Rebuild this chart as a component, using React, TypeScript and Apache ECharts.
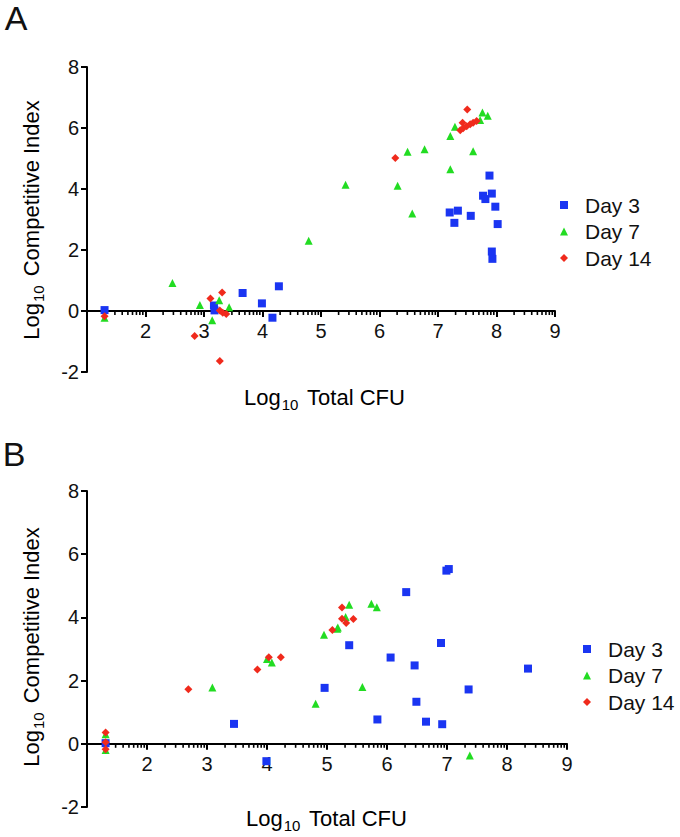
import React, { useEffect, useRef } from 'react';
import * as echarts from 'echarts';

const FONT = "'Liberation Sans', Arial, Helvetica, sans-serif";

const seriesNames = ['Day 3', 'Day 7', 'Day 14'];
const seriesColors = ['#1a35f2', '#22dc22', '#f02a1c'];
const seriesSymbols = ['rect', 'triangle', 'diamond'];

const xMin = 1;
const xMax = 9;
const yMin = -2;
const yMax = 8;
const yStep = 2;
const minorFractions = [0.301, 0.477, 0.602, 0.699, 0.778, 0.845, 0.903, 0.954];

// Panel A
const aDay3: number[][] = [
  [1.30, 0.03], [3.17, 0.18], [3.18, 0.02], [3.66, 0.59], [3.99, 0.25], [4.28, 0.81], [4.17, -0.22],
  [7.88, 4.44], [7.77, 3.78], [7.81, 3.67], [7.92, 3.85], [7.98, 3.42], [7.20, 3.23], [7.34, 3.29],
  [7.28, 2.89], [7.56, 3.12], [8.02, 2.85], [7.92, 1.95], [7.93, 1.71],
];
const aDay7: number[][] = [
  [1.30, -0.22], [2.46, 0.92], [2.93, 0.20], [3.14, -0.30], [3.26, 0.35], [3.43, 0.12], [4.79, 2.30],
  [5.42, 4.14], [6.31, 4.11], [6.56, 3.20], [6.48, 5.22], [6.77, 5.30], [7.60, 5.24], [7.21, 4.65],
  [7.21, 5.74], [7.29, 6.04], [7.72, 6.26], [7.76, 6.51], [7.85, 6.40],
];
const aDay14: number[][] = [
  [1.30, -0.17], [3.11, 0.41], [3.31, 0.61], [3.27, 0.02], [3.32, -0.06], [3.38, -0.10], [2.84, -0.82],
  [3.27, -1.64], [6.27, 5.02], [7.50, 6.61], [7.42, 6.17], [7.38, 5.93], [7.43, 5.99], [7.49, 6.06],
  [7.55, 6.12], [7.60, 6.17], [7.66, 6.23],
];

// Panel B
const bDay3: number[][] = [
  [1.31, 0.02], [3.45, 0.63], [3.99, -0.55], [4.96, 1.77], [5.37, 3.12], [6.06, 2.73], [5.84, 0.77],
  [6.32, 4.80], [6.46, 2.48], [6.49, 1.33], [6.65, 0.70], [6.90, 3.19], [6.92, 0.62], [6.99, 5.48],
  [7.03, 5.53], [7.36, 1.72], [8.35, 2.38],
];
const bDay7: number[][] = [
  [1.31, 0.30], [1.31, -0.20], [3.09, 1.78], [4.00, 2.68], [4.08, 2.57], [4.81, 1.27], [4.95, 3.45],
  [5.18, 3.68], [5.17, 3.64], [5.31, 4.01], [5.37, 4.40], [5.74, 4.43], [5.83, 4.32], [5.59, 1.80],
  [7.38, -0.37],
];
const bDay14: number[][] = [
  [1.31, 0.36], [1.31, 0.05], [1.31, -0.17], [2.69, 1.73], [3.84, 2.35], [4.03, 2.74], [4.23, 2.74],
  [5.09, 3.60], [5.25, 4.31], [5.25, 3.96], [5.32, 3.82], [5.44, 3.95],
];

const panels = [
  { data: [aDay3, aDay7, aDay14] },
  { data: [bDay3, bDay7, bDay14] },
];

const subRich = {
  n: { fontSize: 22, fontFamily: FONT, color: '#111' },
  s: { fontSize: 15, fontFamily: FONT, color: '#111', padding: [14, 3, 0, 1] },
};

export default function App() {
  const ref = useRef<HTMLDivElement>(null);

  useEffect(() => {
    if (!ref.current) return;
    const chart = echarts.init(ref.current, undefined, { renderer: 'svg' });

    const minorTicks: number[][] = [];
    for (let n = xMin; n < xMax; n++) {
      minorFractions.forEach((f) => minorTicks.push([n + f, 0]));
    }

    const grids = [
      { left: 87, top: 67, width: 468, height: 305 },
      { left: 87, top: 491, width: 480, height: 316 },
    ];

    const axisLineStyle = { color: '#000', width: 2 };

    // x axis crosses the y axis at 0: shift it up from the grid bottom by the share of 0 in the y range
    const zeroShare = (0 - yMin) / (yMax - yMin);

    const xAxes = grids.map((g, i) => ({
      gridIndex: i,
      type: 'value',
      min: xMin,
      max: xMax,
      interval: 1,
      offset: -g.height * zeroShare,
      axisLine: { show: true, onZero: false, lineStyle: axisLineStyle },
      axisTick: { show: true, length: 6, inside: false, lineStyle: { color: '#000', width: 2 } },
      axisLabel: {
        fontSize: 20,
        fontFamily: FONT,
        color: '#111',
        margin: 10,
        formatter: (v: number) => (v === xMin ? '' : String(v)),
      },
      splitLine: { show: false },
    }));

    const yAxes = grids.map((_, i) => ({
      gridIndex: i,
      type: 'value',
      min: yMin,
      max: yMax,
      interval: yStep,
      axisLine: { show: true, onZero: false, lineStyle: axisLineStyle },
      axisTick: { show: true, length: 6, lineStyle: { color: '#000', width: 2 } },
      axisLabel: { fontSize: 20, fontFamily: FONT, color: '#111', margin: 8 },
      splitLine: { show: false },
    }));

    const series: any[] = [];
    panels.forEach((p, gi) => {
      p.data.forEach((d, si) => {
        series.push({
          type: 'scatter',
          name: seriesNames[si],
          xAxisIndex: gi,
          yAxisIndex: gi,
          data: d,
          symbol: seriesSymbols[si],
          symbolSize: 8,
          itemStyle: { color: seriesColors[si], opacity: 1 },
          z: 3 + si,
        });
      });
      series.push({
        type: 'custom',
        name: 'minorTicks' + gi,
        xAxisIndex: gi,
        yAxisIndex: gi,
        silent: true,
        data: minorTicks,
        renderItem: (params: any, api: any) => {
          const pt = api.coord([api.value(0), 0]);
          return {
            type: 'line',
            shape: { x1: pt[0], y1: pt[1], x2: pt[0], y2: pt[1] + 4 },
            style: { stroke: '#000', lineWidth: 1.6 },
          };
        },
        z: 2,
      });
    });

    const legendBase = {
      data: seriesNames,
      orient: 'vertical',
      itemWidth: 8,
      itemHeight: 8,
      itemGap: 4.5,
      selectedMode: false,
      textStyle: { fontSize: 21, fontFamily: FONT, color: '#111', lineHeight: 22, padding: [0, 0, 0, 12] },
    };

    const graphic: any[] = [
      { type: 'text', x: 16, y: 18, style: { text: 'A', fontSize: 34, fontFamily: FONT, fill: '#111', align: 'center', verticalAlign: 'middle' } },
      { type: 'text', x: 14, y: 454, style: { text: 'B', fontSize: 34, fontFamily: FONT, fill: '#111', align: 'center', verticalAlign: 'middle' } },
      {
        type: 'text', x: 31, y: 220, rotation: Math.PI / 2,
        style: { text: '{n|Log}{s|10}{n| Competitive Index}', rich: subRich, align: 'center', verticalAlign: 'middle' },
      },
      {
        type: 'text', x: 31, y: 647, rotation: Math.PI / 2,
        style: { text: '{n|Log}{s|10}{n| Competitive Index}', rich: subRich, align: 'center', verticalAlign: 'middle' },
      },
      {
        type: 'text', x: 244, y: 397,
        style: { text: '{n|Log}{s|10}{n| Total CFU}', rich: subRich, align: 'left', verticalAlign: 'middle' },
      },
      {
        type: 'text', x: 246, y: 818,
        style: { text: '{n|Log}{s|10}{n| Total CFU}', rich: subRich, align: 'left', verticalAlign: 'middle' },
      },
    ];

    chart.setOption({
      animation: false,
      backgroundColor: '#fff',
      textStyle: { fontFamily: FONT },
      grid: grids,
      xAxis: xAxes,
      yAxis: yAxes,
      legend: [
        { ...legendBase, left: 555, top: 189 },
        { ...legendBase, left: 578, top: 633 },
      ],
      graphic,
      series,
    });

    return () => chart.dispose();
  }, []);

  return (
    <div
      ref={ref}
      style={{ position: 'fixed', left: 0, top: 0, width: 680, height: 837, background: '#fff' }}
    />
  );
}
